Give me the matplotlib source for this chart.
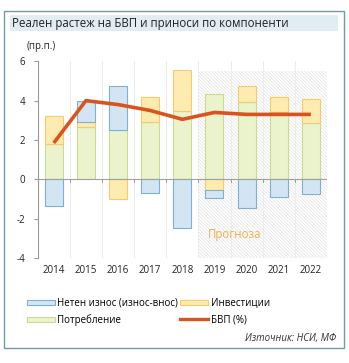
import matplotlib
matplotlib.use("Agg")
import matplotlib.pyplot as plt
import numpy as np
from matplotlib.patches import Rectangle, Patch
from matplotlib.lines import Line2D

years = ["2014", "2015", "2016", "2017", "2018", "2019", "2020", "2021", "2022"]
consumption = [1.78, 2.64, 2.49, 2.93, 3.46, 4.32, 3.95, 3.40, 2.85]
investment = [1.45, 0.29, -0.98, 1.27, 2.10, -0.54, 0.80, 0.80, 1.22]
net_exports = [-1.36, 1.05, 2.25, -0.71, -2.46, -0.43, -1.47, -0.92, -0.76]
gdp = [1.85, 4.00, 3.80, 3.50, 3.05, 3.40, 3.30, 3.30, 3.30]

title = "Реален растеж на БВП и приноси по компоненти"
unit = "(пр.п.)"
forecast_label = "Прогноза"
source = "Източник: НСИ, МФ"
labels = ["Нетен износ (износ-внос)", "Инвестиции", "Потребление", "БВП (%)"]

plt.rcParams['font.family'] = ['Open Sans', 'DejaVu Sans']
plt.rcParams['hatch.linewidth'] = 0.6
plt.rcParams['hatch.color'] = '#e6e6e6'

W, H = 349, 363
fig = plt.figure(figsize=(W / 100, H / 100), dpi=100)

def fx(px):
    return px / W

def fy(py):
    return 1 - py / H

# outer frame
fig.patches.append(Rectangle((fx(4), fy(348)), fx(340), (348 - 11) / H,
                             transform=fig.transFigure, fill=False, edgecolor='#6f9aa8', linewidth=1.0))
# title band
fig.patches.append(Rectangle((fx(10), fy(31)), fx(328), 16 / H, transform=fig.transFigure,
                             facecolor='#e2ecf3', edgecolor='none'))
fig.text(fx(12), fy(23), title, fontsize=8.3, color='#222222', va='center', ha='left')
fig.text(fx(27), fy(47), unit, fontsize=7, color='#222222', va='center', ha='left')

ax = fig.add_axes([fx(37.7), fy(258), fx(327 - 37.7), (258 - 61.3) / H])
x = np.arange(len(years))
bw = 0.56

c_blue = ('#d3e5f2', '#7fb0d2')
c_yel = ('#fdebb0', '#f4cc70')
c_grn = ('#eaf3cc', '#c8dc92')

# hatched forecast region
ax.add_patch(Rectangle((4.5, -4), 4.0, 9.5, facecolor='white', edgecolor='#e6e6e6',
                       hatch='\\' * 10, linewidth=0, zorder=0))

pos_b = np.zeros(len(years))
neg_b = np.zeros(len(years))
for vals, (fc, ec) in [(consumption, c_grn), (investment, c_yel), (net_exports, c_blue)]:
    v = np.array(vals)
    bottoms = np.where(v >= 0, pos_b, neg_b)
    ax.bar(x, v, bw, bottom=bottoms, facecolor=fc, edgecolor=ec, linewidth=0.8, zorder=2)
    pos_b = pos_b + np.where(v >= 0, v, 0)
    neg_b = neg_b + np.where(v < 0, v, 0)

ax.plot(x, gdp, color='#d9531e', linewidth=2.6, zorder=4, solid_capstyle='butt')

ax.set_xlim(-0.5, 8.5)
ax.set_ylim(-4, 6)
ax.set_yticks([-4, -2, 0, 2, 4, 6])
ax.set_yticklabels(['-4', '-2', '0', '2', '4', '6'])
ax.set_xticks(x)
ax.set_xticklabels(years)
ax.tick_params(axis='x', length=0, labelsize=7, pad=5, colors='#222222')
ax.tick_params(axis='y', length=3, labelsize=7, pad=6, colors='#222222', color='#999999', width=0.8)
for s in ['top', 'right', 'bottom']:
    ax.spines[s].set_visible(False)
ax.spines['left'].set_color('#999999')
ax.spines['left'].set_linewidth(0.8)

for b in np.arange(0.5, 8.5, 1.0):
    ax.axvline(b, color='#ececec', linewidth=0.7, zorder=1)
    ax.plot([b, b], [0, -0.12], color='#999999', linewidth=0.7, zorder=3)
ax.axhline(0, color='#a0a0a0', linewidth=0.8, zorder=3)

ax.text(4.79, -2.78, forecast_label, fontsize=8.3, color='#f0b050', va='center', ha='left', zorder=5)

handles = [Patch(facecolor=c_blue[0], edgecolor=c_blue[1], linewidth=0.8),
           Patch(facecolor=c_grn[0], edgecolor=c_grn[1], linewidth=0.8),
           Patch(facecolor=c_yel[0], edgecolor=c_yel[1], linewidth=0.8),
           Line2D([0], [0], color='#d9531e', linewidth=2.4)]
leg_labels = [labels[0], labels[2], labels[1], labels[3]]
fig.legend(handles, leg_labels, loc='upper left', bbox_to_anchor=(fx(19), fy(290)), ncol=2,
           frameon=False, fontsize=7, handlelength=2.9, handleheight=0.45, handletextpad=0.25,
           columnspacing=0.2, labelspacing=0.55, borderpad=0.3)

fig.text(fx(336), fy(338), source, fontsize=7, style='italic', color='#333333', ha='right', va='center')

fig.savefig('out.png', dpi=100, facecolor='white')
